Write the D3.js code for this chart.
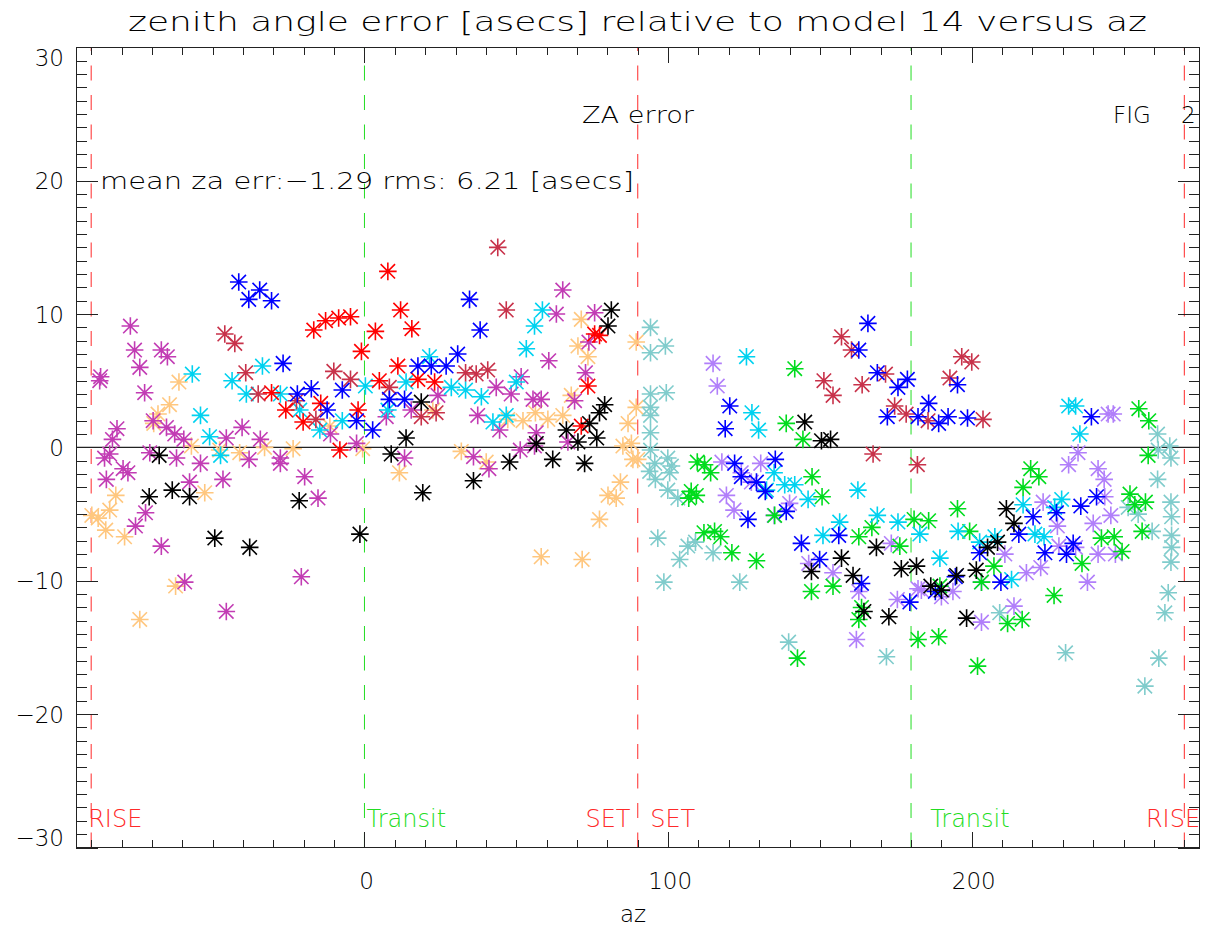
<!DOCTYPE html>
<html>
<head>
<meta charset="utf-8">
<script src="https://cdn.jsdelivr.net/npm/d3@7"></script>
<style>
body { margin: 0; background: #fff; }
svg text { font-family: "DejaVu Sans", sans-serif; font-weight: 200; fill: #000; }
</style>
</head>
<body>
<div id="chart"></div>
<script>
// ---- data: [az, za error] ----
var blackPts = [[-67.6,-0.6],[-70.9,-3.7],[-63.3,-3.2],[-57.6,-3.7],[-21.5,-4.0],[-49.3,-6.8],[-37.8,-7.5],[-1.5,-6.5],
	[8.8,-0.5],[13.7,0.7],[18.7,3.4],[19.2,-3.4],[35.9,-2.5],[47.8,-1.1],[56.6,0.3],[62.0,-0.9],[66.5,1.3],[70.3,0.4],
	[72.5,-1.2],[74.1,1.8],[76.5,0.7],[77.4,2.6],[79.1,3.2],[80.2,9.1],[81.3,10.3],[145.0,1.9],[150.5,0.5],[153.5,0.6],
	[147.2,-9.3],[157.1,-8.3],[160.9,-9.6],[164.5,-12.3],[172.7,-12.7],[168.6,-7.5],[176.8,-9.1],[181.8,-8.9],[186.5,-10.4],
	[190.0,-10.7],[195.0,-9.6],[201.5,-9.2],[205.2,-7.5],[208.5,-7.1],[211.4,-4.6],[213.9,-5.7],[198.3,-12.8]];

var magentaPts = [[-77.1,9.1],[-75.7,7.3],[-66.9,7.3],[-64.9,6.8],[-74.0,6.0],[-86.9,5.3],[-87.2,5.0],[-72.4,4.1],[-81.5,1.4],
	[-83.0,0.6],[-65.2,1.5],[-62.5,1.0],[-59.5,0.6],[-45.5,0.7],[-40.3,1.5],[-34.3,0.6],[-11.2,1.0],[-2.6,0.3],[-69.6,2.0],
	[-85.6,-0.8],[-83.9,-0.5],[-79.5,-1.6],[-77.9,-1.9],[-85.0,-2.4],[-70.7,-0.4],[-61.9,-0.8],[-54.0,-1.2],[-57.6,-2.6],
	[-46.6,-2.4],[-38.0,-0.9],[-27.7,-0.8],[-27.7,-1.2],[-19.7,-2.2],[-15.3,-3.8],[-72.1,-4.9],[-75.4,-5.9],[-66.9,-7.4],
	[-59.2,-10.1],[-45.5,-12.3],[-20.8,-9.7],[65.3,11.8],[63.2,10.0],[75.8,10.1],[60.7,6.5],[73.9,7.9],[72.8,5.6],[43.4,4.5],
	[48.3,4.0],[51.6,5.3],[55.5,3.6],[58.2,3.6],[37.3,2.4],[44.5,1.3],[15.4,2.8],[7.2,2.3],[69.2,3.5],[67.0,0.4],[56.6,1.1],
	[24.2,3.9],[13.2,-0.8],[35.9,-0.7],[41.0,-1.6],[51.3,-0.2],[56.0,0.1]];

var orangePts = [[-61.1,4.9],[-64.2,3.2],[-68.0,2.5],[-69.4,1.8],[-57.0,0.1],[-47.7,-0.2],[-41.1,-0.4],[-32.9,0.0],[-23.5,-0.1],
	[-11.4,1.6],[-81.9,-3.6],[-83.9,-4.7],[-87.7,-5.3],[-85.2,-6.2],[-79.0,-6.7],[-52.6,-3.4],[-62.2,-10.4],[-74.0,-12.9],
	[-89.8,-5.1],[71.4,9.6],[70.3,7.6],[73.6,6.8],[68.1,3.9],[56.3,2.6],[52.2,2.0],[60.4,2.1],[65.3,2.4],[89.5,7.9],[89.5,3.0],
	[86.8,1.8],[85.1,0.1],[87.9,0.3],[31.9,-0.3],[47.2,2.1],[22.5,2.8],[-0.6,-0.1],[11.5,-1.9],[40.1,-1.1],[58.2,-8.2],
	[71.7,-8.4],[77.4,-5.4],[80.2,-3.6],[82.9,-3.8],[84.3,-2.6],[88.4,-0.9],[90.0,-0.9]];

var cyanPts = [[-33.6,6.1],[-56.7,5.5],[-43.6,5.0],[-38.9,4.0],[-27.7,4.0],[-54.0,2.4],[-51.0,0.8],[-7.3,2.0],[-14.7,1.3],
	[-21.3,2.8],[-47.4,-0.6],[58.6,10.3],[56.0,9.1],[53.3,7.4],[21.4,6.8],[28.6,4.5],[33.3,4.3],[38.5,3.8],[50.0,4.9],
	[13.7,4.9],[46.7,2.4],[42.3,1.9],[7.7,2.8],[0.3,4.6],[125.8,6.8],[127.6,2.6],[129.8,1.3],[134.9,-1.9],[141.7,-2.8],
	[162.5,-3.2],[138.4,-2.8],[132.4,-3.2],[146.1,-3.9],[156.5,-5.6],[151.0,-6.6],[168.9,-5.1],[175.7,-5.6],[182.9,-6.5],
	[231.9,3.1],[234.2,3.1],[235.6,1.0],[229.6,-3.9],[227.3,-4.5],[216.9,-4.3],[195.5,-6.3],[202.6,-7.1],[207.6,-6.7],
	[220.8,-6.5],[223.8,-6.7],[189.5,-8.3],[213.1,-9.9]];

var bluePts = [[-41.4,12.4],[-34.5,11.8],[-38.1,11.1],[-30.6,11.0],[-26.8,6.3],[-22.1,4.0],[-17.5,4.4],[-7.3,4.3],[-12.3,2.8],
	[-2.6,2.0],[34.6,11.1],[38.1,8.8],[30.7,7.0],[17.6,6.1],[22.0,6.1],[26.9,6.1],[8.2,3.6],[13.2,3.6],[2.7,1.3],
	[120.3,3.1],[118.8,1.4],[165.8,9.3],[162.8,7.3],[168.9,5.6],[175.7,4.5],[178.8,5.1],[172.2,2.3],[182.3,2.3],[135.3,-0.9],
	[121.9,-1.2],[124.1,-2.2],[129.1,-2.6],[132.0,-3.3],[126.3,-5.4],[138.9,-4.8],[143.9,-7.2],[149.9,-8.4],[156.2,-6.6],
	[163.7,-10.2],[179.6,-11.6],[195.3,4.7],[185.8,3.3],[189.1,1.8],[192.2,2.3],[198.6,2.2],[239.4,2.3],[241.1,-3.7],
	[235.9,-4.4],[227.9,-4.9],[220.2,-5.2],[215.5,-6.5],[202.6,-7.9],[224.1,-7.9],[231.2,-8.0],[233.4,-7.2],[209.6,-10.1],
	[194.6,-9.7],[188.0,-10.8]];

var redPts = [[-16.7,8.8],[-12.8,9.5],[-8.5,9.7],[-4.6,9.8],[-1.0,7.2],[-30.6,4.1],[-25.9,2.8],[-20.2,1.9],[-14.4,3.3],
	[-2.1,2.8],[-8.1,-0.2],[7.7,13.2],[11.9,10.3],[15.6,8.9],[3.6,8.7],[11.0,6.1],[4.9,5.0],[17.6,5.1],[23.1,4.9],
	[75.8,8.5],[77.4,8.4],[73.6,4.6],[71.4,1.6]];

var crimsonPts = [[-46.0,8.5],[-42.7,7.8],[-39.1,5.6],[-35.0,4.0],[-10.1,5.7],[-4.6,5.1],[-22.4,3.5],[-16.0,2.1],[43.9,15.0],
	[46.7,10.3],[40.6,5.8],[36.8,5.5],[33.3,5.6],[23.6,2.6],[18.7,2.3],[8.2,4.5],[157.1,8.3],[160.4,7.3],[151.3,5.0],
	[154.3,3.9],[163.9,4.7],[171.6,5.5],[174.6,3.1],[178.4,2.5],[167.5,-0.5],[182.1,-1.3],[185.6,2.0],[203.7,2.1],
	[196.7,6.8],[200.0,6.4],[192.8,5.2]];

var tealPts = [[94.2,9.0],[94.2,7.1],[99.1,7.6],[94.2,4.0],[99.4,4.1],[94.2,3.0],[94.2,2.4],[94.2,1.1],[94.2,-0.2],[95.6,-1.2],
	[99.9,-0.8],[101.1,-1.4],[93.9,-1.8],[95.8,-2.4],[100.5,-1.9],[99.9,-3.2],[103.2,-3.8],[96.6,-6.8],[106.5,-7.4],
	[109.0,-7.1],[103.8,-8.4],[114.8,-7.9],[98.6,-10.1],[123.6,-10.1],[139.7,-14.6],[171.9,-15.7],[261.2,1.0],[265.2,0.1],
	[261.4,-0.2],[265.6,-0.8],[261.2,-2.4],[265.6,-4.1],[265.8,-5.2],[265.8,-6.6],[265.8,-7.5],[265.6,-8.6],[264.7,-10.9],
	[263.6,-12.4],[261.6,-15.8],[257.0,-17.9],[230.9,-15.4],[209.2,-12.4],[259.4,-6.3],[251.5,-4.5],[254.8,-5.0]];

var greenPts = [[141.7,5.9],[138.9,1.8],[144.4,0.6],[109.6,-1.1],[112.0,-1.3],[114.0,-1.9],[147.4,-2.2],[150.7,-3.7],
	[107.6,-3.3],[106.8,-3.8],[109.3,-3.6],[135.1,-5.1],[111.8,-6.4],[115.3,-6.3],[117.3,-6.7],[121.0,-7.9],[129.1,-8.5],
	[162.8,-6.7],[167.1,-6.0],[176.3,-7.4],[181.0,-5.4],[147.2,-10.8],[154.3,-10.4],[163.7,-12.0],[162.8,-12.9],
	[142.6,-15.8],[182.3,-14.4],[258.1,-0.6],[255.0,2.9],[258.3,2.0],[219.4,-1.6],[222.1,-2.2],[216.9,-3.0],[195.3,-4.6],
	[185.8,-5.5],[199.3,-6.3],[252.1,-3.5],[253.7,-4.3],[257.2,-4.1],[256.1,-6.3],[242.7,-6.8],[246.9,-6.7],[249.5,-7.8],
	[236.3,-8.7],[207.3,-8.9],[203.2,-10.1],[189.5,-10.4],[227.1,-11.1],[211.8,-13.2],[216.6,-12.9],[189.1,-14.2],
	[201.9,-16.4]];

var lavenderPts = [[114.8,6.3],[116.2,4.6],[117.7,-1.1],[130.5,-1.2],[124.1,-1.9],[127.4,-2.6],[119.2,-3.6],[121.7,-4.7],
	[140.0,-4.2],[134.9,-5.1],[146.3,-8.7],[154.3,-9.4],[162.8,-10.8],[173.5,-7.2],[175.5,-11.4],[162.0,-14.4],[182.3,-10.6],
	[244.9,2.5],[246.6,2.5],[235.0,-0.4],[231.9,-1.3],[241.6,-1.6],[243.6,-2.4],[243.8,-3.7],[223.5,-4.1],[245.8,-5.1],
	[240.0,-5.7],[228.2,-5.9],[210.9,-8.0],[218.0,-9.4],[222.7,-9.0],[228.7,-7.4],[234.2,-7.5],[241.6,-8.0],[247.3,-8.0],
	[238.1,-10.1],[203.2,-10.1],[193.8,-10.8],[190.0,-11.2],[183.4,-10.7],[213.9,-11.9],[203.2,-13.1]];

// draw order and colours
var seriesList = [
	{pts: orangePts, color: "#ffc77f"},
	{pts: magentaPts, color: "#c23cb4"},
	{pts: tealPts, color: "#80cccc"},
	{pts: lavenderPts, color: "#b17ffa"},
	{pts: greenPts, color: "#00dc1e"},
	{pts: cyanPts, color: "#00d2f0"},
	{pts: crimsonPts, color: "#c8324a"},
	{pts: redPts, color: "#ff0000"},
	{pts: bluePts, color: "#0000ff"},
	{pts: blackPts, color: "#000000"}
];

var xTickVals = [0, 100, 200];
var yTickVals = [-30, -20, -10, 0, 10, 20, 30];
var guideAz = [-90, 0, 90, 180, 270];
var guideColor = ["#ff2a2a", "#22dd22", "#ff2a2a", "#22dd22", "#ff2a2a"];
var guideLabels = [
	{text: "RISE", az: -91, anchor: "start", color: "#ff2a2a"},
	{text: "Transit", az: 0.7, anchor: "start", color: "#22dd22"},
	{text: "SET", az: 87.6, anchor: "end", color: "#ff2a2a"},
	{text: "SET", az: 94.1, anchor: "start", color: "#ff2a2a"},
	{text: "Transit", az: 186.3, anchor: "start", color: "#22dd22"},
	{text: "RISE", az: 275.2, anchor: "end", color: "#ff2a2a"}
];

var titleText = "zenith angle error [asecs] relative to model 14 versus az";
var statText = "mean za err:\u22121.29 rms: 6.21 [asecs]";

var width = 1209, height = 930;
var margin = {top: 47.3, right: 9.5, bottom: 82.5, left: 76};

var x = d3.scaleLinear().domain([-95, 275]).range([margin.left, width - margin.right]);
var y = d3.scaleLinear().domain([-30, 30]).range([height - margin.bottom, margin.top]);

var svg = d3.select("#chart").append("svg")
	.attr("width", width)
	.attr("height", height);

var x0 = x.range()[0], x1 = x.range()[1], y0 = y.range()[0], y1 = y.range()[1];

// dashed guides
svg.selectAll(".guide")
	.data(guideAz)
	.enter().append("path")
	.attr("class", "guide")
	.attr("d", function(d) { return "M" + x(d) + "," + y0 + "V" + y1; })
	.attr("stroke", function(d, i) { return guideColor[i]; })
	.attr("stroke-width", 1)
	.attr("stroke-dasharray", "15,14.5")
	.attr("fill", "none");

// zero line
svg.append("line")
	.attr("x1", x0).attr("x2", x1)
	.attr("y1", y(0)).attr("y2", y(0))
	.attr("stroke", "#222")
	.attr("stroke-width", 1.2);

// asterisk markers
var star = "M-8.8,0H8.8M0,-8.8V8.8M-7.2,-7.2L7.2,7.2M-7.2,7.2L7.2,-7.2";

seriesList.forEach(function(s) {
	svg.append("g")
		.selectAll("path")
		.data(s.pts)
		.enter().append("path")
		.attr("d", star)
		.attr("transform", function(d) { return "translate(" + x(d[0]) + "," + y(d[1]) + ")"; })
		.attr("stroke", s.color)
		.attr("stroke-width", 1.6)
		.attr("fill", "none");
});

// axes: minor + major ticks on all four sides, pointing inward
var xMinor = d3.range(-90, 271, 10), yMinor = d3.range(-30, 31, 1);

function tickAxis(axis, vals, size, tx, ty) {
	var g = svg.append("g")
		.attr("transform", "translate(" + tx + "," + ty + ")")
		.style("color", "#222")
		.call(axis.tickValues(vals).tickSize(size).tickFormat(""));
	g.select(".domain").remove();
	g.selectAll("line").attr("shape-rendering", "crispEdges");
}

tickAxis(d3.axisTop(x), xMinor, 8, 0, y0);
tickAxis(d3.axisTop(x), xTickVals, 16, 0, y0);
tickAxis(d3.axisBottom(x), xMinor, 8, 0, y1);
tickAxis(d3.axisBottom(x), xTickVals, 16, 0, y1);
tickAxis(d3.axisRight(y), yMinor, 11, x0, 0);
tickAxis(d3.axisRight(y), yTickVals, 22, x0, 0);
tickAxis(d3.axisLeft(y), yMinor, 11, x1, 0);
tickAxis(d3.axisLeft(y), yTickVals, 22, x1, 0);

// box
svg.append("rect")
	.attr("x", x0).attr("y", y1)
	.attr("width", x1 - x0).attr("height", y0 - y1)
	.attr("fill", "none")
	.attr("stroke", "#222")
	.attr("stroke-width", 1)
	.attr("shape-rendering", "crispEdges");

// tick labels
var fmt = d3.format("d");

svg.selectAll(".xlab")
	.data(xTickVals)
	.enter().append("text")
	.attr("x", function(d) { return x(d) + 2; })
	.attr("y", y0 + 41)
	.attr("text-anchor", "middle")
	.style("font-size", "23px")
	.text(fmt);

svg.selectAll(".ylab")
	.data(yTickVals)
	.enter().append("text")
	.attr("x", 64)
	.attr("y", function(d) {
		var off = d == 30 ? 10 : d == -30 ? -10 : 0;
		return y(d) + 8.5 + off;
	})
	.attr("text-anchor", "end")
	.style("font-size", "23px")
	.text(fmt);

svg.append("text")
	.attr("x", 633).attr("y", 922)
	.attr("text-anchor", "middle")
	.style("font-size", "23px")
	.text("az");

// title and annotations
svg.append("text")
	.attr("x", 128).attr("y", 31)
	.attr("textLength", 1019)
	.attr("lengthAdjust", "spacingAndGlyphs")
	.style("font-size", "26px")
	.text(titleText);

svg.append("text")
	.attr("x", 582).attr("y", 122.5)
	.attr("textLength", 112)
	.attr("lengthAdjust", "spacingAndGlyphs")
	.style("font-size", "23px")
	.text("ZA error");

svg.append("text")
	.attr("x", 1113).attr("y", 122.5)
	.style("font-size", "23px")
	.text("FIG");

svg.append("text")
	.attr("x", 1181).attr("y", 122.5)
	.style("font-size", "23px")
	.text("2");

svg.append("text")
	.attr("x", 100).attr("y", 189)
	.attr("textLength", 534)
	.attr("lengthAdjust", "spacingAndGlyphs")
	.style("font-size", "23px")
	.text(statText);

svg.selectAll(".glab")
	.data(guideLabels)
	.enter().append("text")
	.attr("x", function(d) { return x(d.az); })
	.attr("y", 827)
	.attr("text-anchor", function(d) { return d.anchor; })
	.style("font-size", "24px")
	.style("fill", function(d) { return d.color; })
	.text(function(d) { return d.text; });
</script>
</body>
</html>
